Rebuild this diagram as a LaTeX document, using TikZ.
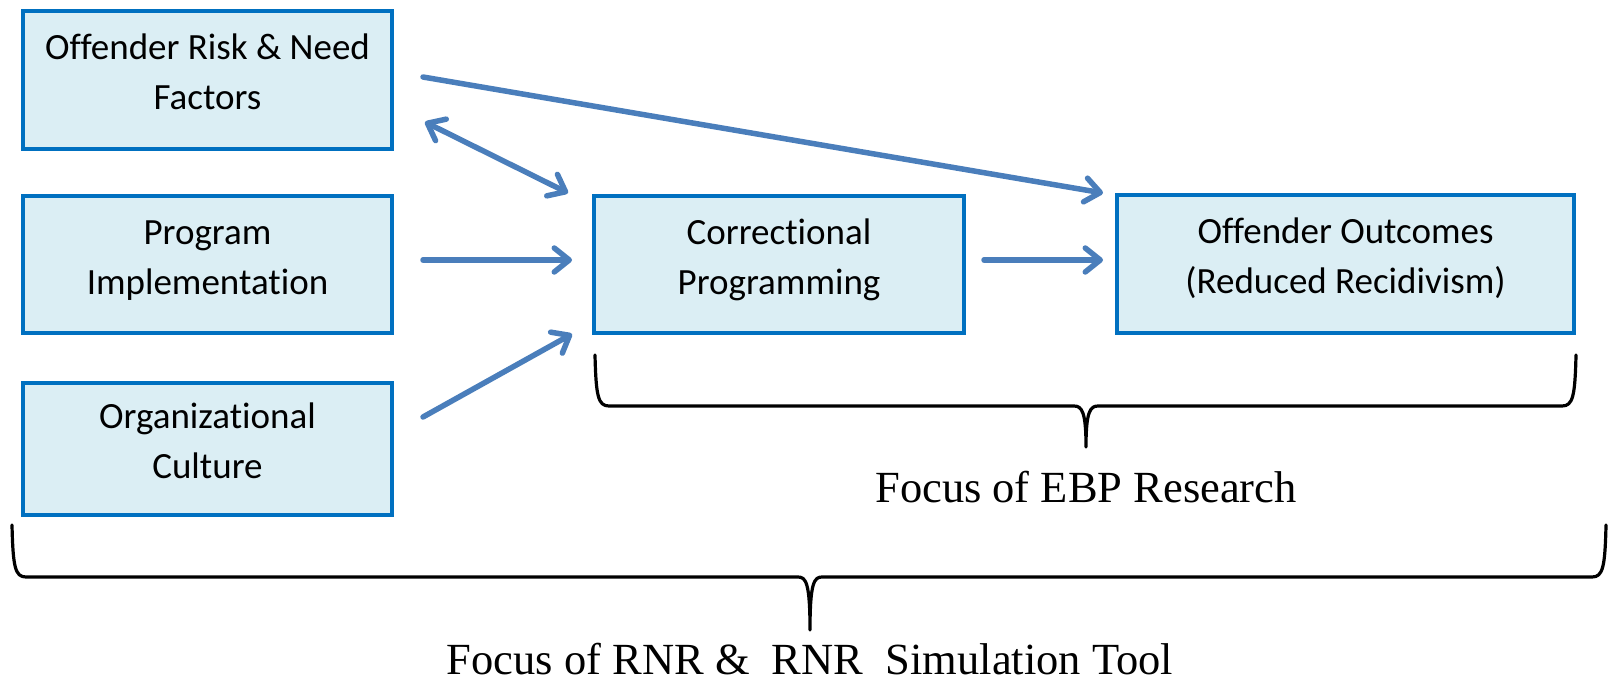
\documentclass[tikz,border=0pt]{standalone}
\usepackage{fontspec}
\setmainfont{Liberation Serif}
\newfontfamily\boxfamily[Ligatures={NoCommon}]{Carlito}
\usetikzlibrary{arrows.meta}

\definecolor{boxfill}{HTML}{DBEEF4}
\definecolor{boxline}{HTML}{0070C0}
\definecolor{flowblue}{HTML}{4A7EBB}

% two centred lines, baseline at the last line
\newcommand\boxlines[2]{\vbox{\halign{\hfil##\hfil\cr#1\cr#2\cr}}}

\tikzset{
  factor/.style={draw=boxline, fill=boxfill, line width=3.5pt,
    rectangle, inner sep=0pt, outer sep=0pt,
    text height=80pt, text depth=21pt,
    font=\boxfamily\fontsize{37}{50}\selectfont},
  flow/.style={draw=flowblue, line width=5.5pt, line cap=round,
    -{Straight Barb[round, length=15pt, width=24pt]}},
  twoway/.style={flow, {Straight Barb[round, length=15pt, width=24pt]}-{Straight Barb[round, length=15pt, width=24pt]}},
  bracket/.style={draw=black, line width=3.2pt, line join=round, line cap=round},
  caption/.style={anchor=base, inner sep=0pt, font=\fontsize{44.5}{50}\selectfont}
}

\begin{document}
\begin{tikzpicture}[x=1pt, y=-1pt]
\useasboundingbox (0,0) rectangle (1608,682);

% boxes
\node[factor, minimum width=369pt, minimum height=138pt] (risk) at (207.5,80)
  {\boxlines{Offender Risk \& Need}{Factors}};
\node[factor, minimum width=369pt, minimum height=137pt] (impl) at (207.5,264.5)
  {\boxlines{Program}{Implementation}};
\node[factor, minimum width=369pt, minimum height=132pt] (culture) at (207.5,449)
  {\boxlines{Organizational}{Culture}};
\node[factor, minimum width=370pt, minimum height=137pt] (prog) at (779,264.5)
  {\boxlines{Correctional}{Programming}};
\node[factor, minimum width=457pt, minimum height=138pt] (outcome) at (1345.5,264)
  {\boxlines{Offender Outcomes}{(Reduced Recidivism)}};

% arrow end points beside the boxes
\coordinate (riskA)  at ([shift={(31,-3)}]risk.east);
\coordinate (riskB)  at ([shift={(33,-27)}]risk.south east);
\coordinate (implA)  at ([shift={(31,-4.5)}]impl.east);
\coordinate (cultA)  at ([shift={(31,-32)}]culture.east);
\coordinate (progNW) at ([shift={(-26,-3)}]prog.north west);
\coordinate (progW)  at ([shift={(-22,-4.5)}]prog.west);
\coordinate (progSW) at ([shift={(-22,1)}]prog.south west);
\coordinate (progE)  at ([shift={(20,-4.5)}]prog.east);
\coordinate (outNW)  at ([shift={(-14,-2)}]outcome.north west);
\coordinate (outW)   at ([shift={(-14,-4)}]outcome.west);

% arrows
\draw[flow]   (riskA) -- (outNW);
\draw[twoway] (riskB) -- (progNW);
\draw[flow]   (implA) -- (progW);
\draw[flow]   (cultA) -- (progSW);
\draw[flow]   (progE) -- (outW);

% brace under programming and outcomes
\draw[bracket] (595,355) .. controls (596,396) and (598,406) .. (609,406)
  -- (1074,406) .. controls (1082,406) and (1086,412) .. (1086,447)
  .. controls (1086,412) and (1090,406) .. (1098,406)
  -- (1562,406) .. controls (1573,406) and (1575,396) .. (1576,355);
\node[caption] (ebp) at (1086,502) {Focus of EBP Research};

% brace under the whole model
\draw[bracket] (12,525) .. controls (13,567) and (15,577) .. (26,577)
  -- (798,577) .. controls (806,577) and (810,583) .. (810,630)
  .. controls (810,583) and (814,577) .. (822,577)
  -- (1592,577) .. controls (1603,577) and (1605,567) .. (1606,525);
\node[caption] (rnr) at (810,674) {Focus of RNR \&\ \ RNR\ \ Simulation Tool};
\end{tikzpicture}
\end{document}
